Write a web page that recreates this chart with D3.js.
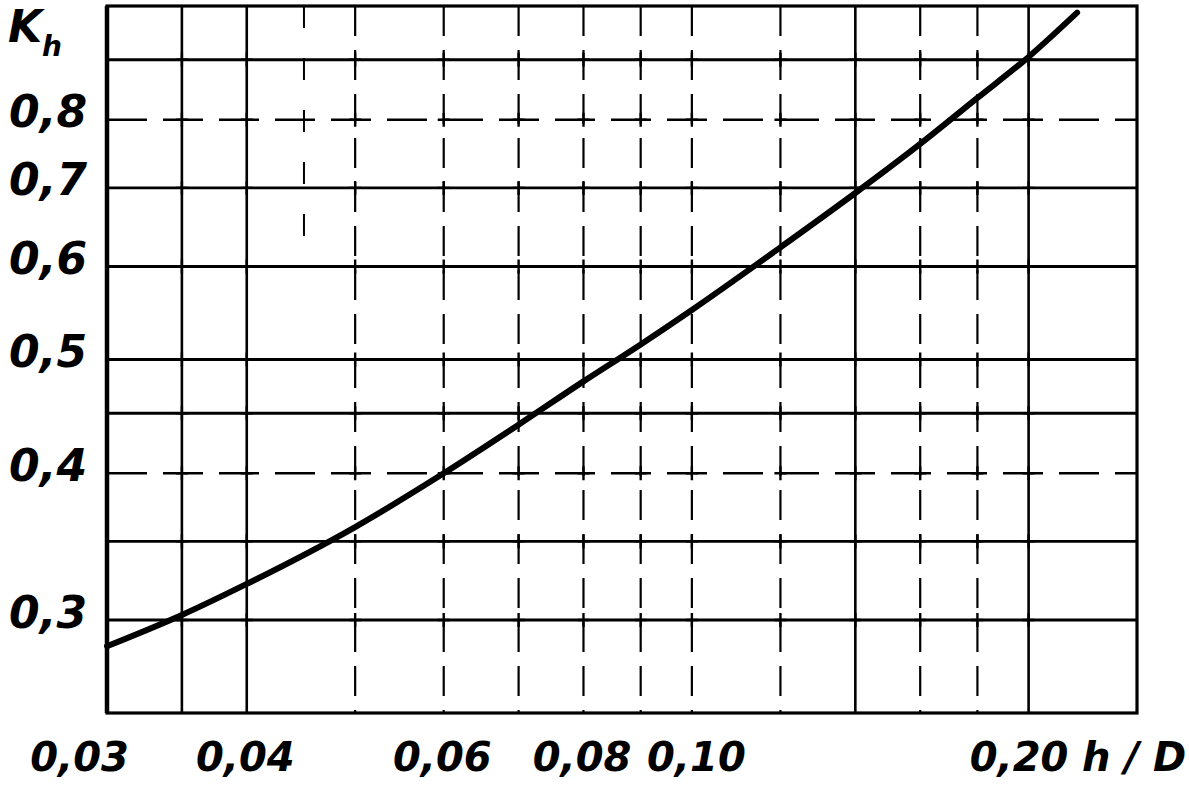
<!DOCTYPE html>
<html>
<head>
<meta charset="utf-8">
<script src="https://cdn.jsdelivr.net/npm/d3@7"></script>
<style>
  html, body { margin: 0; padding: 0; background: #fff; }
  svg { display: block; }
  .lbl { font-family: "DejaVu Sans", sans-serif; font-weight: bold; font-style: italic; fill: #000; }
</style>
</head>
<body>
<svg id="chart" width="1189" height="789"></svg>
<script>
// ---- data ----
const xDomain = [0.03, 0.25];
const yDomain = [0.25, 1.0];
const xTicks = [0.03, 0.04, 0.06, 0.08, 0.10, 0.20];
const xTickLabels = ["0,03", "0,04", "0,06", "0,08", "0,10", "0,20"];
const yTicks = [0.3, 0.4, 0.5, 0.6, 0.7, 0.8];
const yTickLabels = ["0,3", "0,4", "0,5", "0,6", "0,7", "0,8"];
const xGridSolid = [0.035, 0.04, 0.14, 0.20];
const xGridDashed = [0.05, 0.06, 0.07, 0.08, 0.09, 0.10, 0.12, 0.16, 0.18];
const yGridSolid = [0.3, 0.35, 0.45, 0.5, 0.6, 0.7, 0.9];
const yGridDashed = [0.4, 0.8];
const curveX = [0.03, 0.035, 0.04, 0.05, 0.06, 0.07, 0.08, 0.09, 0.10, 0.12, 0.14, 0.16, 0.18, 0.20, 0.221];
const curveY = [0.285, 0.303, 0.322, 0.360, 0.400, 0.440, 0.479, 0.515, 0.551, 0.623, 0.693, 0.763, 0.835, 0.905, 0.987];
const xTitle = "h / D";
const yTitleMain = "K";
const yTitleSub = "h";

// ---- drawing ----
const svg = d3.select("#chart");
svg.append("rect").attr("width", 1189).attr("height", 789).attr("fill", "#fff");

const x = d3.scaleLog().domain(xDomain).range([107, 1137]);
const y = d3.scaleLog().domain(yDomain).range([713, 6]);

const grid = svg.append("g").attr("stroke", "#000").attr("fill", "none");

// vertical grid
grid.selectAll("line.vs").data(xGridSolid).join("line")
  .attr("x1", d => x(d)).attr("x2", d => x(d))
  .attr("y1", y(yDomain[1])).attr("y2", y(yDomain[0]))
  .attr("stroke-width", 2.6);
grid.selectAll("line.vd").data(xGridDashed).join("line")
  .attr("x1", d => x(d)).attr("x2", d => x(d))
  .attr("y1", y(yDomain[1])).attr("y2", y(yDomain[0]))
  .attr("stroke-width", 2.2)
  .attr("stroke-dasharray", "30 14");
// short dashed line at 0.045 in upper part
grid.append("line")
  .attr("x1", x(0.045)).attr("x2", x(0.045))
  .attr("y1", y(1.0)).attr("y2", y(0.6))
  .attr("stroke-width", 2)
  .attr("stroke-dasharray", "22 30");

// horizontal grid
grid.selectAll("line.hs").data(yGridSolid).join("line")
  .attr("y1", d => y(d)).attr("y2", d => y(d))
  .attr("x1", x(xDomain[0])).attr("x2", x(xDomain[1]))
  .attr("stroke-width", 2.8);
grid.selectAll("line.hd").data(yGridDashed).join("line")
  .attr("y1", d => y(d)).attr("y2", d => y(d))
  .attr("x1", x(xDomain[0])).attr("x2", x(xDomain[1]))
  .attr("stroke-width", 2.4)
  .attr("stroke-dasharray", "40 16");

// small crosses at intersections
const allX = xGridSolid.concat(xGridDashed);
const allY = yGridSolid.concat(yGridDashed);
const pts = [];
allX.forEach(a => allY.forEach(b => pts.push([a, b])));
const cross = svg.append("g").attr("stroke", "#000").attr("stroke-width", 2.4);
cross.selectAll("path").data(pts).join("path")
  .attr("d", d => `M${x(d[0]) - 6},${y(d[1])}h12M${x(d[0])},${y(d[1]) - 7}v14`);

// frame
svg.append("rect")
  .attr("x", x(xDomain[0])).attr("y", y(yDomain[1]))
  .attr("width", x(xDomain[1]) - x(xDomain[0]))
  .attr("height", y(yDomain[0]) - y(yDomain[1]))
  .attr("fill", "none").attr("stroke", "#000").attr("stroke-width", 3.2);
svg.append("line")
  .attr("x1", x(xDomain[0])).attr("x2", x(xDomain[0]))
  .attr("y1", y(yDomain[1])).attr("y2", y(yDomain[0]))
  .attr("stroke", "#000").attr("stroke-width", 4.5);

// curve
const pts2 = curveX.map((v, i) => [v, curveY[i]]);
svg.append("path")
  .datum(pts2)
  .attr("fill", "none").attr("stroke", "#000").attr("stroke-width", 6)
  .attr("stroke-linecap", "round")
  .attr("d", d3.line().x(d => x(d[0])).y(d => y(d[1])).curve(d3.curveMonotoneX));

// x axis labels
const xAxis = d3.axisBottom(x).tickValues(xTicks)
  .tickFormat((d, i) => xTickLabels[i]).tickSize(0).tickPadding(0);
const gx = svg.append("g").attr("transform", `translate(0,${y(yDomain[0])})`).call(xAxis);
gx.select(".domain").remove();
gx.selectAll("text")
  .attr("class", "lbl")
  .attr("font-size", 40)
  .attr("y", 58).attr("dy", 0)
  .attr("dx", (d, i) => i === 0 ? -28 : (i === 4 ? 4 : (i === 5 ? -10 : -2)));

// x title
svg.append("text").attr("class", "lbl")
  .attr("x", 1082).attr("y", 771).attr("font-size", 40)
  .text(xTitle);

// y axis labels
const yAxis = d3.axisLeft(y).tickValues(yTicks)
  .tickFormat((d, i) => yTickLabels[i]).tickSize(0).tickPadding(0);
const gy = svg.append("g").attr("transform", `translate(${x(xDomain[0])},0)`).call(yAxis);
gy.select(".domain").remove();
gy.selectAll("text")
  .attr("class", "lbl")
  .attr("font-size", 44)
  .attr("text-anchor", "end")
  .attr("x", -20).attr("dy", 0)
  .attr("y", 7);

// y title
const yt = svg.append("text").attr("class", "lbl").attr("x", 8).attr("y", 42).attr("font-size", 44);
yt.append("tspan").text(yTitleMain);
yt.append("tspan").attr("font-size", 28).attr("dy", 14).attr("dx", 0).text(yTitleSub);
</script>
</body>
</html>
